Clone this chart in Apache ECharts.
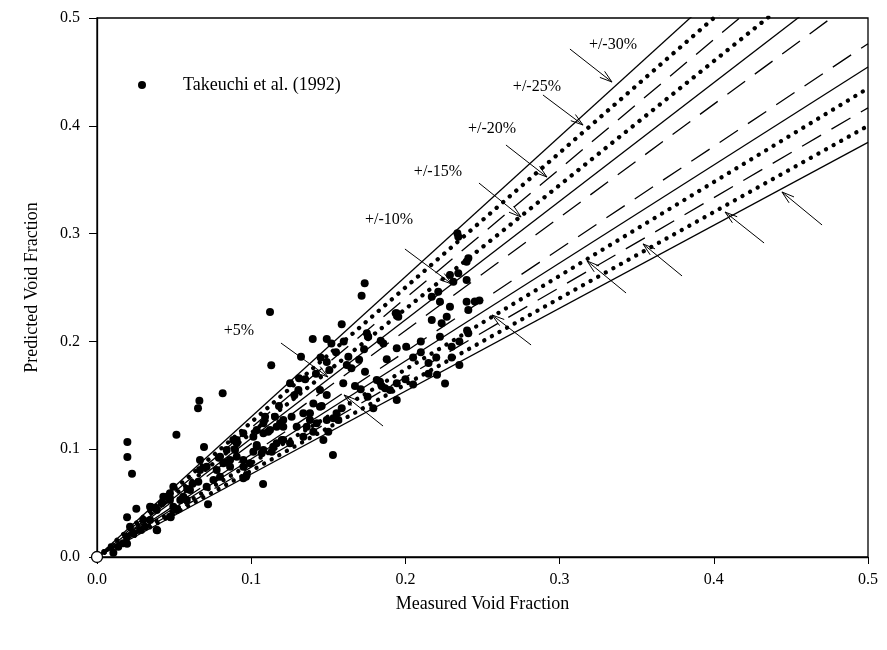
<!DOCTYPE html>
<html>
<head>
<meta charset="utf-8">
<script src="https://cdn.jsdelivr.net/npm/echarts@6/dist/echarts.min.js"></script>
<style>html,body{margin:0;padding:0;background:#fff}#c{width:887px;height:650px}</style>
</head>
<body>
<div id="c"></div>
<script>
// ---- data ----
const seriesName = 'Takeuchi et al. (1992)';
const measuredVoid = [
0.0815,0.0664,0.0655,0.0197,0.0197,0.0227,0.0515,0.0694,0.0255,0.0195,0.035,0.039,0.0478,0.072,0.0966,0.1077,0.0195,0.0106,
0.1122,0.1736,0.1716,0.153,0.1587,0.113,
0.1399,0.149,0.152,0.1323,0.149,0.1507,0.163,0.162,0.1757,0.1732,0.184,0.1937,0.1944,0.1879,0.1738,0.1252,0.131,0.1306,0.1446,0.149,0.1597,0.1673,0.171,0.1814,0.1846,0.1944,0.1944,0.1755,0.1792,0.1587,0.1533,0.1457,0.1403,0.1381,0.1262,0.1154,0.1187,0.1208,0.109,0.1079,0.111,0.1014,0.1036,0.1068,0.1143,0.1208,0.136,0.1403,0.149,0.0906,0.0895,
0.2343,0.2337,0.2408,0.2397,0.2289,0.2311,0.2343,0.2397,0.2213,0.2171,0.2224,0.2289,0.2397,0.2408,0.2171,0.2235,0.2268,0.2408,0.2224,0.1944,0.1954,0.1759,
0.175,0.1857,0.1835,0.1868,
0.1446,0.1468,0.15,0.1198,0.1133,0.1014,0.1036,0.0906,0.0971,0.0863,0.0819,0.0776,0.0755,0.0668,0.0657,0.0603,0.0582,0.054,0.0473,0.0452,0.0495,0.0473,0.0387,0.0344,0.0193,0.017,0.0138,0.0279,0.0235,0.03,0.0387,0.042,0.0668,0.0711,0.0798,0.0841,0.0884,0.0949,0.1036,0.1079,0.1122,0.1165,0.1208,0.1295,0.1338,0.1381,0.1425,0.1554,0.1565,0.1338,0.1252,0.1165,0.1079,0.0949,0.0906,0.0863,0.0992,0.0949,0.0949,0.0798,0.0711,0.056,0.0517,0.043,0.0473,0.0495,0.0344,0.0311,0.0214,
0.2005,0.205,0.21,0.215,0.2,0.205,0.22,0.2205,0.2257,0.23,0.235,0.24,0.245,0.248,0.21,0.19,0.215,0.23,0.235,0.145,0.155,0.16,0.165,0.17,0.128,0.135,0.142,0.118,0.0585,0.062,0.079,0.084
];
const predictedVoid = [
0.152,0.145,0.138,0.1067,0.0928,0.0773,0.1135,0.102,0.0448,0.0368,0.0464,0.0248,0.0368,0.049,0.0745,0.0677,0.0124,0.004,
0.2273,0.254,0.2424,0.0946,0.2159,0.1778,
0.2022,0.2022,0.198,0.1858,0.181,0.1735,0.1858,0.178,0.2044,0.1927,0.2007,0.226,0.1936,0.1834,0.1719,0.1611,0.1658,0.1549,0.1549,0.1503,0.1611,0.1586,0.1555,0.1642,0.1586,0.1611,0.1456,0.1487,0.138,0.138,0.1286,0.14,0.1425,0.1333,0.1302,0.1302,0.124,0.1209,0.1302,0.124,0.1162,0.1116,0.1023,0.0962,0.1023,0.1085,0.1209,0.1162,0.1271,0.1085,0.0993,
0.2971,0.3003,0.2771,0.274,0.2616,0.2554,0.2632,0.257,0.2461,0.2415,0.2368,0.2322,0.2368,0.2291,0.2199,0.2168,0.2229,0.2075,0.2044,0.226,0.2229,0.2044,
0.2075,0.198,0.1626,0.1565,
0.1394,0.1085,0.1162,0.1085,0.0977,0.0977,0.1039,0.1055,0.0761,0.0838,0.0869,0.0807,0.0714,0.0807,0.0699,0.0622,0.0529,0.0529,0.0529,0.056,0.0467,0.0374,0.025,0.0467,0.0188,0.0127,0.0096,0.025,0.022,0.0343,0.0436,0.0498,0.09,0.0838,0.093,0.0993,0.1085,0.1147,0.1178,0.1147,0.1178,0.1209,0.1271,0.1209,0.1333,0.1271,0.124,0.1333,0.1271,0.1116,0.1055,0.1055,0.0993,0.09,0.093,0.09,0.0869,0.0838,0.073,0.0745,0.0652,0.056,0.0436,0.056,0.0591,0.0652,0.0343,0.0281,0.0281,
0.195,0.185,0.19,0.17,0.165,0.16,0.185,0.169,0.161,0.195,0.2,0.21,0.237,0.238,0.2,0.155,0.18,0.185,0.178,0.185,0.19,0.2,0.175,0.183,0.15,0.165,0.17,0.14,0.063,0.068,0.092,0.088
];
const bandPercents = [5, 10, 15, 20, 25, 30];
const upperLabels = ['+5%', '+/-10%', '+/-15%', '+/-20%', '+/-25%', '+/-30%'];
// label centres (data units)
const labelX = [0.0921, 0.1894, 0.2211, 0.2562, 0.2853, 0.3346];
const labelY = [0.2096, 0.3126, 0.357, 0.397, 0.436, 0.475];
// arrows: tail -> tip (data units)
const upperArrowTail = [[0.1193,0.1985],[0.1997,0.2857],[0.2477,0.3469],[0.2652,0.3822],[0.2892,0.4286],[0.3067,0.4712]];
const upperArrowTip  = [[0.1498,0.1670],[0.2302,0.2532],[0.2750,0.3154],[0.2918,0.3525],[0.3152,0.4007],[0.3340,0.4406]];
const lowerArrowTail = [[0.1855,0.1215],[0.2815,0.1967],[0.3431,0.2449],[0.3794,0.2607],[0.4326,0.2913],[0.4702,0.3080]];
const lowerArrowTip  = [[0.1602,0.1503],[0.2562,0.2245],[0.3178,0.2746],[0.3541,0.2904],[0.4073,0.3200],[0.4442,0.3386]];
const xTicks = ['0.0','0.1','0.2','0.3','0.4','0.5'];

// ---- styles ----
const FONT = '"Liberation Serif","Times New Roman",serif';
const styleFor = {
  5:  {type:[22,12], width:1.3, cap:'butt'},
  10: {type:'solid', width:1.3, cap:'butt'},
  15: {type:[0.1,8.6], width:4.3, cap:'round'},
  20: {type:[22,12], width:1.3, cap:'butt'},
  25: {type:[0.1,8.6], width:4.3, cap:'round'},
  30: {type:'solid', width:1.3, cap:'butt'}
};

const series = [];
bandPercents.forEach(p => {
  const k = 1 + p / 100;
  const st = styleFor[p];
  [[[0,0],[0.5,0.5*k]], [[0,0],[0.5,0.5/k]]].forEach(d => {
    series.push({
      type:'line', data:d, symbol:'none', silent:true, clip:true, z:2,
      lineStyle:{color:'#000', width:st.width, type:st.type, cap:st.cap}
    });
  });
});

series.push({
  name: seriesName, type:'scatter', symbol:'circle', symbolSize:8, z:4,
  itemStyle:{color:'#000', opacity:1},
  data: measuredVoid.map((x,i)=>[x, predictedVoid[i]])
});

// origin hollow marker
series.push({
  type:'scatter', symbol:'circle', symbolSize:11, z:6, silent:true,
  itemStyle:{color:'#fff', borderColor:'#000', borderWidth:1.3, opacity:1},
  data:[[0,0]], clip:false
});

// arrows
const arrowData = [];
upperArrowTail.forEach((t,i)=>arrowData.push([t[0],t[1],upperArrowTip[i][0],upperArrowTip[i][1]]));
lowerArrowTail.forEach((t,i)=>arrowData.push([t[0],t[1],lowerArrowTip[i][0],lowerArrowTip[i][1]]));
series.push({
  type:'custom', z:5, silent:true,
  renderItem: function(params, api){
    const a = api.coord([api.value(0), api.value(1)]);
    const b = api.coord([api.value(2), api.value(3)]);
    const ang = Math.atan2(b[1]-a[1], b[0]-a[0]);
    const L = 13, sp = 0.3;
    const h1 = [b[0]-L*Math.cos(ang-sp), b[1]-L*Math.sin(ang-sp)];
    const h2 = [b[0]-L*Math.cos(ang+sp), b[1]-L*Math.sin(ang+sp)];
    const st = {stroke:'#000', lineWidth:1, fill:null};
    return {type:'group', children:[
      {type:'line', shape:{x1:a[0],y1:a[1],x2:b[0],y2:b[1]}, style:st},
      {type:'polyline', shape:{points:[h1,b,h2]}, style:st}
    ]};
  },
  data: arrowData
});

// labels
series.push({
  type:'scatter', symbolSize:0, z:6, silent:true,
  itemStyle:{opacity:1},
  label:{show:true, position:'inside', color:'#000', fontFamily:FONT, fontSize:16,
    formatter: p => p.name},
  data: upperLabels.map((t,i)=>({name:t, value:[labelX[i], labelY[i]]}))
});

const chart = echarts.init(document.getElementById('c'), null, {renderer:'canvas'});
chart.setOption({
  animation:false,
  backgroundColor:'#fff',
  grid:{left:97, right:19, top:18, bottom:93, show:true, borderColor:'#000', borderWidth:1.3, backgroundColor:'transparent'},
  legend:{
    data:[seriesName], left:133, top:71, icon:'circle', itemWidth:8, itemHeight:8,
    textStyle:{fontFamily:FONT, fontSize:18, color:'#000', padding:[0,0,0,32]}
  },
  xAxis:{
    type:'value', min:0, max:0.5, interval:0.1,
    name:'Measured Void Fraction', nameLocation:'middle', nameGap:38,
    nameTextStyle:{fontFamily:FONT, fontSize:18, color:'#000'},
    axisLine:{show:true, onZero:false, lineStyle:{color:'#000', width:1.3}},
    axisTick:{show:true, inside:false, length:7, lineStyle:{color:'#000', width:1}},
    axisLabel:{fontFamily:FONT, fontSize:16, color:'#000', margin:15,
      formatter: v => xTicks[Math.round(v*10)]},
    splitLine:{show:false}
  },
  yAxis:{
    type:'value', min:0, max:0.5, interval:0.1,
    name:'Predicted Void Fraction', nameLocation:'middle', nameGap:56,
    nameTextStyle:{fontFamily:FONT, fontSize:18, color:'#000'},
    axisLine:{show:true, onZero:false, lineStyle:{color:'#000', width:1.3}},
    axisTick:{show:true, inside:false, length:8, lineStyle:{color:'#000', width:1}},
    axisLabel:{fontFamily:FONT, fontSize:16, color:'#000', margin:17,
      formatter: v => xTicks[Math.round(v*10)]},
    splitLine:{show:false}
  },
  series: series
});
</script>
</body>
</html>
